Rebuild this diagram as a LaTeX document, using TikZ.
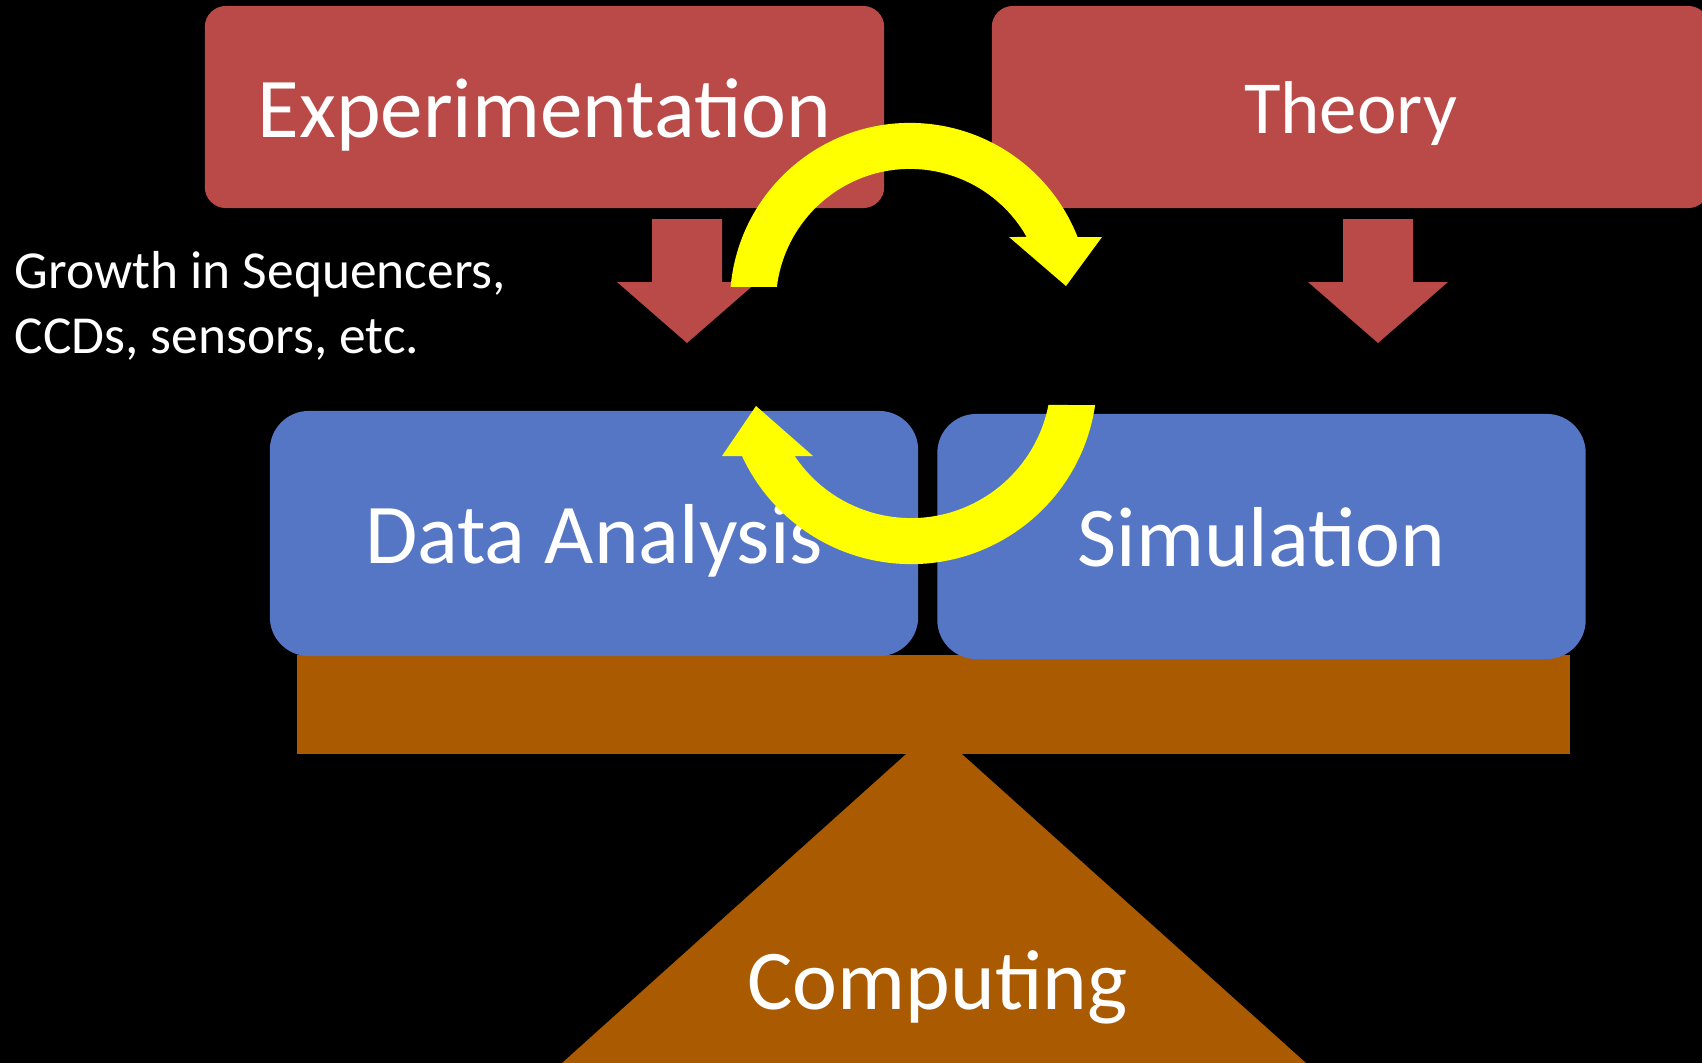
\documentclass[tikz,border=0pt]{standalone}
\usepackage{fontspec}
\setmainfont{Carlito}
\usetikzlibrary{calc}
\definecolor{boxred}{HTML}{B94A48}
\definecolor{boxblue}{HTML}{5576C4}
\definecolor{beambrown}{HTML}{AA5A00}
\definecolor{loopyellow}{HTML}{FFFF00}

\begin{document}
\begin{tikzpicture}[x=0.01cm,y=0.01cm,
	box/.style={rounded corners=0.21cm, text=white, inner sep=0pt, text depth=0pt},
	redbox/.style={box, fill=boxred, minimum height=2.02cm, text height=0.60cm},
	bluebox/.style={box, fill=boxblue, minimum height=2.45cm, minimum width=6.48cm, rounded corners=0.39cm, text height=0.60cm},
	big/.style={font=\fontsize{24.2}{29}\selectfont}]
\useasboundingbox (0,0) rectangle (1702,-1063);
\fill[black] (0,0) rectangle (1702,-1063);
\clip (0,0) rectangle (1702,-1063);

% balance
\fill[beambrown] (934,-729) -- (1306,-1063) -- (562,-1063) -- cycle;
\fill[beambrown] (297,-655) rectangle (1570,-754);
\node[bluebox,big] (ana) at (594,-533.5) {Data Analysis};
\node[bluebox,big] (sim) at (1261.5,-536.5) {Simulation};
\node[big,text=white,anchor=base,inner sep=0pt] (comp) at (937.5,-1009) {Computing};

% top row
\node[redbox,big,minimum width=6.79cm] (expt) at (544.5,-107) {Experimentation};
\node[redbox,font=\fontsize{21.3}{26}\selectfont,minimum width=7.17cm,text height=0.53cm] (theo) at (1350.5,-107) {Theory};
\foreach \dx in {0,691} {
	\fill[boxred,shift={(\dx,0)}] (652,-219) -- (722,-219) -- (722,-282) -- (757,-282) -- (687,-343) -- (617,-282) -- (652,-282) -- cycle;
}

\node[anchor=base west,inner sep=0pt,text=white,font=\fontsize{15.2}{18.5}\selectfont] (growth) at (14,-288)
	{\begin{tabular}[t]{@{}l@{}}Growth in Sequencers,\\CCDs, sensors, etc.\end{tabular}};

% the two half loops
\coordinate (toploop) at (910,-303);
\coordinate (botloop) at (911,-378);
\fill[loopyellow] ($(toploop)+(174.9:1.8cm)$) arc[start angle=174.9,end angle=21.5,radius=1.8cm]
	-- (1102,-237) -- (1066,-286) -- (1009,-237)
	-- ($(toploop)+(29.5:1.34cm)$) arc[start angle=29.5,end angle=173.1,radius=1.34cm] -- cycle;
\fill[loopyellow] ($(botloop)+(-8.35:1.86cm)$) arc[start angle=-8.35,end angle=-155.2,radius=1.86cm]
	-- (722,-456) -- (756,-406) -- (813,-456)
	-- ($(botloop)+(-146.1:1.4cm)$) arc[start angle=-146.1,end angle=-11.1,radius=1.4cm] -- cycle;

\end{tikzpicture}
\end{document}
